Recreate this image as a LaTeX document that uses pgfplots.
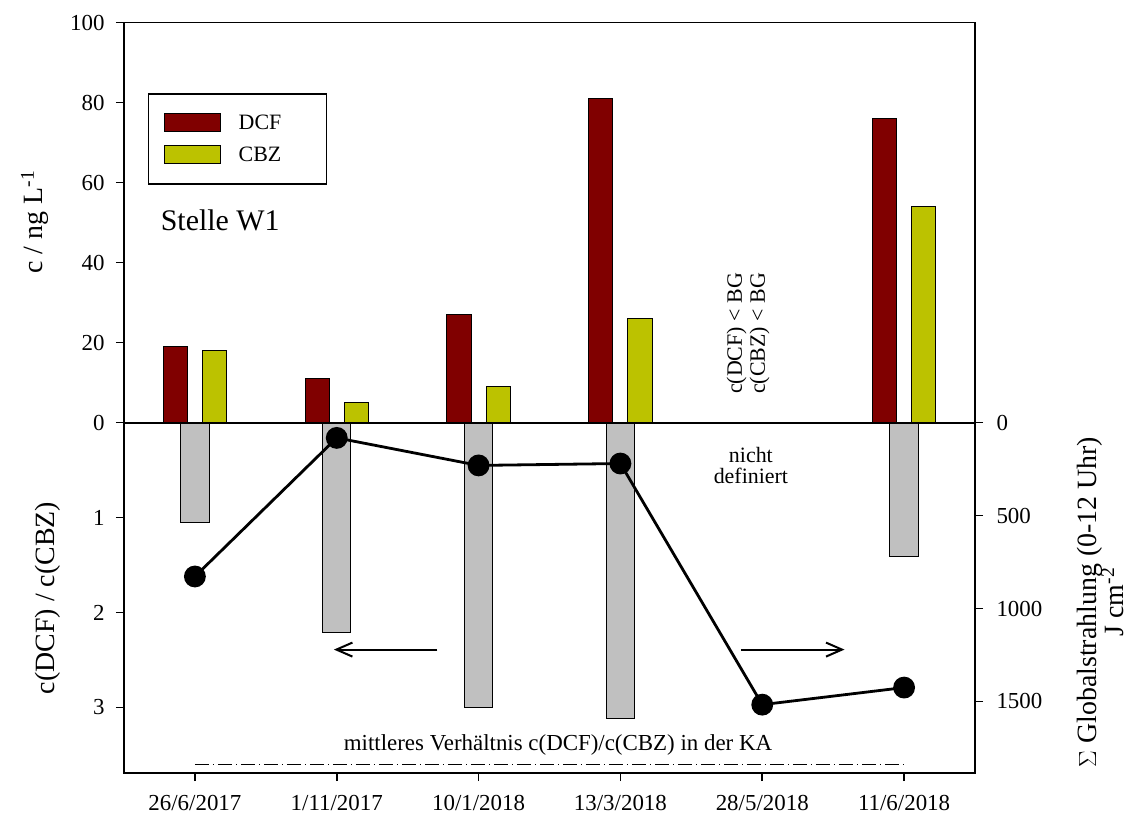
\documentclass[border=0pt]{standalone}
\usepackage{fontspec}
\setmainfont{Liberation Serif}
\usepackage{pgfplots}
\pgfplotsset{compat=1.18}
\usetikzlibrary{arrows.meta}

\definecolor{dcfred}{RGB}{128,0,0}
\definecolor{cbzyellow}{RGB}{188,194,0}
\definecolor{radgrey}{RGB}{192,192,192}

\newcommand{\fs}[1]{\fontsize{#1}{#1}\selectfont}

\pgfplotsset{
  panel/.style={
    scale only axis, width=851bp,
    xmin=-0.5, xmax=5.5,
    axis line style={line width=1.6bp},
    every tick/.style={black, line width=1.6bp},
    major tick length=8bp,
    tick align=outside,
    /pgf/number format/assume math mode=true,
    /pgf/number format/1000 sep={},
    ticklabel style={font=\fs{23}},
    clip=false,
  },
}

\begin{document}
\begin{tikzpicture}
\useasboundingbox (0,0) rectangle (1133bp,819bp);

% upper panel: concentrations of DCF and CBZ
\begin{axis}[panel, at={(124bp,396.3bp)}, anchor=south west, height=400bp,
  ymin=0, ymax=100, ytick={0,20,...,100}, xtick=\empty,
  ytick pos=left,
  yticklabel style={xshift=-8bp},
  ybar, bar width=0.17,
  legend style={at={(0.0282,0.8238)}, anchor=north west, draw=black,
    line width=1.5bp, font=\fs{22}, inner xsep=15bp, inner ysep=19bp,
    row sep=12bp, column sep=8bp, cells={anchor=west}},
  legend image code/.code={\draw[#1, line width=1bp] (0bp,-9bp) rectangle (56bp,9bp);},
]
\addplot[fill=dcfred, draw=black, line width=1bp, bar shift=-0.138]
  coordinates {(0,19) (1,11) (2,27) (3,81) (5,76)};
\addplot[fill=cbzyellow, draw=black, line width=1bp, bar shift=0.138]
  coordinates {(0,18) (1,5) (2,9) (3,26) (5,54)};
\legend{\hspace*{8bp}DCF\hspace*{28bp}, \hspace*{8bp}CBZ\hspace*{28bp}}
\node[anchor=west, font=\fs{30}] at (axis cs:-0.265,50.5) {Stelle W1};
\node[rotate=90, align=center, font=\fs{22}, inner sep=0pt]
  at (axis cs:3.9,22.3) {c(DCF) < BG\\[1bp]c(CBZ) < BG};
\end{axis}

% lower panel, right scale: global radiation (reversed)
\begin{axis}[panel, at={(124bp,46bp)}, anchor=south west, height=350.3bp,
  ymin=0, ymax=1885, y dir=reverse, axis y line*=right, axis x line=none,
  ytick={0,500,1000,1500}, yticklabel style={xshift=10bp},
  ybar, bar width=0.2]
\addplot[fill=radgrey, draw=black, line width=1bp]
  coordinates {(0,538) (1,1130) (2,1534) (3,1594) (5,718)};
\end{axis}

% lower panel, left scale: ratio c(DCF)/c(CBZ) (reversed)
\begin{axis}[panel, at={(124bp,46bp)}, anchor=south west, height=350.3bp,
  ymin=0, ymax=3.69, y dir=reverse, ytick={1,2,3},
  tick pos=left,
  yticklabel style={xshift=-8bp},
  xtick={0,1,2,3,4,5},
  xticklabels={26/6/2017, 1/11/2017, 10/1/2018, 13/3/2018, 28/5/2018, 11/6/2018},
  xticklabel style={yshift=-11bp},
]
\addplot[black, line width=2.8bp, mark=*, mark size=9.5bp]
  coordinates {(0,1.62) (1,0.16) (2,0.45) (3,0.43) (4,2.97) (5,2.79)};
\addplot[black, line width=1.4bp, dash pattern=on 14bp off 4bp on 1bp off 4bp]
  coordinates {(0,3.6) (5,3.6)};
\node[font=\fs{23}] at (axis cs:2.56,3.39) {mittleres Verhältnis c(DCF)/c(CBZ) in der KA};
\node[align=center, font=\fs{22}] at (axis cs:3.92,0.45) {nicht\\[-1bp]definiert};
\draw[line width=2bp, -{Straight Barb[length=16bp,width=14bp]}]
  (axis cs:1.71,2.39) -- (axis cs:0.98,2.39);
\draw[line width=2bp, -{Straight Barb[length=16bp,width=14bp]}]
  (axis cs:3.85,2.39) -- (axis cs:4.58,2.39);
\end{axis}

% axis titles
\node[rotate=90, font=\fs{28}] at (35bp,597bp) {c / ng L\textsuperscript{-1}};
\node[rotate=90, font=\fs{28}] at (48bp,221bp) {c(DCF) / c(CBZ)};
\node[rotate=90, align=center, font=\fs{28}] at (1100bp,217bp)
  {$\Sigma$ Globalstrahlung (0-12 Uhr)\\[-2bp]J cm\textsuperscript{-2}};
\end{tikzpicture}
\end{document}
